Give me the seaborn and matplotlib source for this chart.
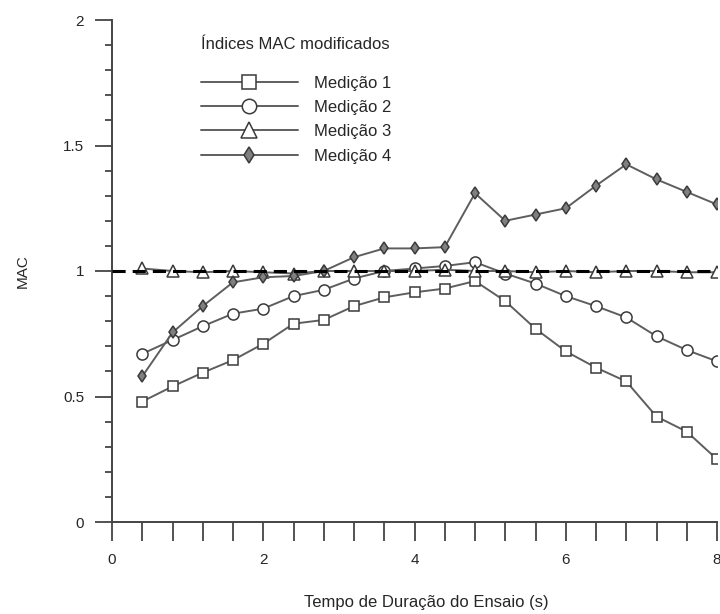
import numpy as np
import pandas as pd
import matplotlib
matplotlib.use("Agg")
import matplotlib.pyplot as plt
from matplotlib.ticker import MultipleLocator, FormatStrFormatter
import seaborn as sns

# Dados
tempo = [0.4, 0.8, 1.2, 1.6, 2.0, 2.4, 2.8, 3.2, 3.6, 4.0,
         4.4, 4.8, 5.2, 5.6, 6.0, 6.4, 6.8, 7.2, 7.6, 8.0]
medicao1 = [0.48, 0.54, 0.595, 0.645, 0.71, 0.79, 0.805, 0.86, 0.895, 0.915,
            0.93, 0.96, 0.88, 0.77, 0.68, 0.615, 0.56, 0.42, 0.36, 0.25]
medicao2 = [0.67, 0.725, 0.78, 0.83, 0.85, 0.90, 0.925, 0.97, 1.0, 1.01,
            1.02, 1.035, 0.99, 0.95, 0.90, 0.86, 0.815, 0.74, 0.685, 0.64]
medicao3 = [1.01, 1.0, 0.995, 1.0, 0.995, 0.99, 1.0, 1.0, 1.0, 1.0,
            1.005, 1.0, 1.0, 0.995, 1.0, 0.995, 1.0, 1.0, 0.995, 0.995]
medicao4 = [0.58, 0.755, 0.86, 0.955, 0.975, 0.98, 1.0, 1.055, 1.09, 1.09,
            1.095, 1.31, 1.2, 1.225, 1.25, 1.34, 1.425, 1.365, 1.315, 1.265]
nomes = ["Medição 1", "Medição 2", "Medição 3", "Medição 4"]

df = pd.DataFrame({"Tempo": tempo, nomes[0]: medicao1, nomes[1]: medicao2,
                   nomes[2]: medicao3, nomes[3]: medicao4})
df_long = df.melt(id_vars="Tempo", var_name="Serie", value_name="MAC")

sns.set_style("white")
plt.rcParams["font.family"] = ["Liberation Sans", "DejaVu Sans"]

fig = plt.figure(figsize=(7.2, 6.14), dpi=100)
ax = fig.add_axes([112 / 720, 92 / 614, 605 / 720, 502 / 614])

# Linha de referência tracejada em MAC = 1
ax.axhline(1.0, color="black", lw=2.2, dashes=(4.3, 2.3), zorder=4)

estilos = {
    nomes[0]: dict(marker="s", markersize=7.5, markerfacecolor="white"),
    nomes[1]: dict(marker="o", markersize=8, markerfacecolor="white"),
    nomes[2]: dict(marker="^", markersize=8.5, markerfacecolor="white"),
    nomes[3]: dict(marker="d", markersize=6, markerfacecolor="#808080"),
}
for nome in nomes:
    sub = df_long[df_long["Serie"] == nome]
    sns.lineplot(data=sub, x="Tempo", y="MAC", ax=ax, color="#5e5e5e", lw=1.4,
                 markeredgecolor="#3a3a3a", markeredgewidth=1.1,
                 label=nome, zorder=3, **estilos[nome])

ax.set_xlim(0, 8)
ax.set_ylim(0, 2)
ax.xaxis.set_major_locator(MultipleLocator(2))
ax.xaxis.set_minor_locator(MultipleLocator(0.4))
ax.yaxis.set_major_locator(MultipleLocator(0.5))
ax.yaxis.set_minor_locator(MultipleLocator(0.1))
ax.yaxis.set_major_formatter(FormatStrFormatter("%g"))

for s in ["top", "right"]:
    ax.spines[s].set_visible(False)
for s in ["left", "bottom"]:
    ax.spines[s].set_color("#444444")
    ax.spines[s].set_linewidth(1.4)

ax.tick_params(axis="x", which="both", direction="out", length=14, width=1.3,
               color="#444444", pad=8, labelsize=11, bottom=True)
ax.tick_params(axis="y", which="major", direction="out", length=12, width=1.3,
               color="#444444", pad=8, labelsize=11, left=True)
ax.tick_params(axis="y", which="minor", direction="out", length=5, width=1.3,
               color="#444444", left=True)

ax.set_xlabel("Tempo de Duração do Ensaio (s)", fontsize=12, va="center")
ax.xaxis.set_label_coords(0.52, -0.161)
ax.set_ylabel("MAC", fontsize=11, va="center")
ax.yaxis.set_label_coords(-0.147, 0.5)

leg = ax.legend(title="Índices MAC modificados", loc="upper left",
                bbox_to_anchor=(186 / 720, 1 - 22 / 614), bbox_transform=fig.transFigure,
                frameon=False, fontsize=12, title_fontsize=12, handlelength=5.8,
                handletextpad=1.0, labelspacing=0.56, markerscale=1.3,
                alignment="left")
leg._legend_box.sep = 17

fig.savefig("out.png", dpi=100)
